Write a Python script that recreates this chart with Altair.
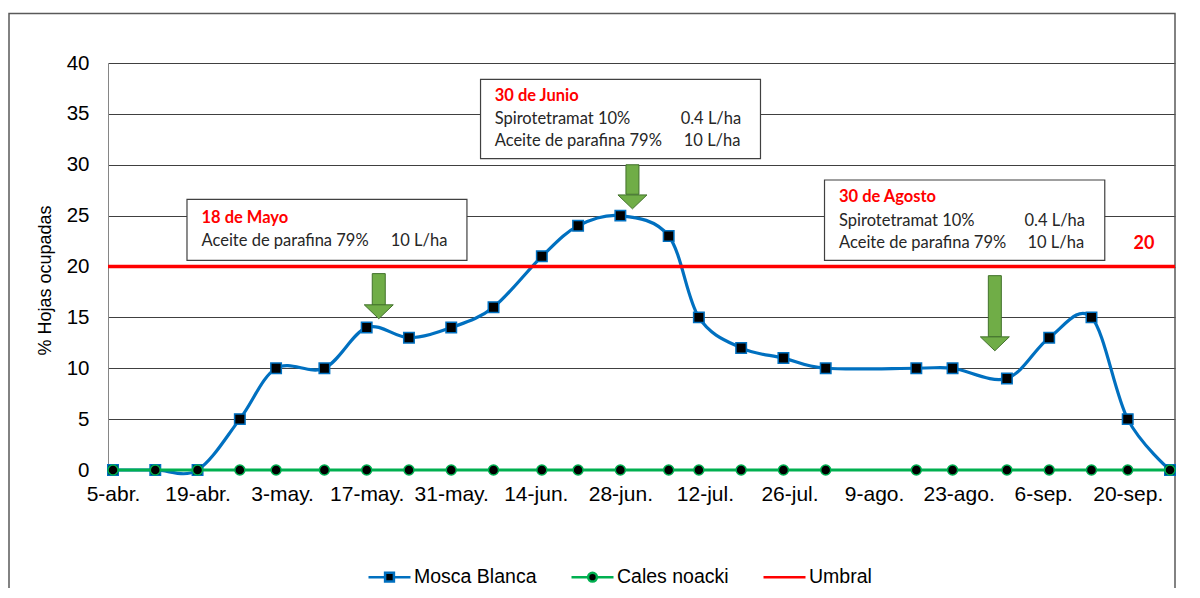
import altair as alt
import pandas as pd

anio = "2019"

# Fechas de muestreo (mes-día) y % de hojas ocupadas
fechas = ["04-05", "04-12", "04-19", "04-26", "05-02", "05-10", "05-17", "05-24",
          "05-31", "06-07", "06-15", "06-21", "06-28", "07-06", "07-11", "07-18",
          "07-25", "08-01", "08-16", "08-22", "08-31", "09-07", "09-14", "09-20", "09-27"]
mosca_blanca = [0, 0, 0, 5, 10, 10, 14, 13, 14, 16, 21, 24, 25, 23, 15, 12, 11, 10,
                10, 10, 9, 13, 15, 5, 0]
cales_noacki = [0, 0, 0, 0, 0, 0, 0, 0, 0, 0, 0, 0, 0, 0, 0, 0, 0, 0,
                0, 0, 0, 0, 0, 0, 0]
umbral = 20

series = ["Mosca Blanca", "Cales noacki", "Umbral"]
colores = ["#0070C0", "#00B050", "#FF0000"]

tick_fechas = ["04-05", "04-19", "05-03", "05-17", "05-31", "06-14", "06-28",
               "07-12", "07-26", "08-09", "08-23", "09-06", "09-20"]
tick_etiquetas = ["5-abr.", "19-abr.", "3-may.", "17-may.", "31-may.", "14-jun.",
                  "28-jun.", "12-jul.", "26-jul.", "9-ago.", "23-ago.", "6-sep.", "20-sep."]

# Tratamientos (flechas)
flecha_fechas = ["05-19", "06-30", "08-29"]
flecha_y_inicio = [19.3, 30.0, 19.1]
flecha_y_cabeza = [16.2, 27.1, 13.1]
flecha_y_punta = [14.9, 25.6, 11.7]

inicio = pd.Timestamp(f"{anio}-04-05")


def dias(lista):
    return [(pd.Timestamp(f"{anio}-{md}") - inicio).days for md in lista]


x_dias = dias(fechas)
tick_dias = dias(tick_fechas)
fin = x_dias[-1]

df = pd.DataFrame({"dia": x_dias, "mosca": mosca_blanca, "cales": cales_noacki})

# Cuadros de texto (en unidades de días / % )
cajas = pd.DataFrame({
    "x1": [12.25, 60.85, 117.8], "x2": [58.6, 107.2, 164.2],
    "y1": [26.6, 38.4, 28.5], "y2": [20.6, 30.6, 20.6],
})
titulos = pd.DataFrame({
    "x": [14.65, 63.2, 120.2], "y": [24.8, 36.8, 26.8],
    "t": ["18 de Mayo", "30 de Junio", "30 de Agosto"],
})
lineas = pd.DataFrame({
    "x": [14.65, 45.97, 63.2, 93.98, 63.2, 94.5, 120.2, 150.9, 120.2, 151.4],
    "y": [22.5, 22.5, 34.5, 34.5, 32.3, 32.3, 24.5, 24.5, 22.3, 22.3],
    "t": ["Aceite de parafina 79%", "10 L/ha",
          "Spirotetramat 10%", "0.4 L/ha", "Aceite de parafina 79%", "10 L/ha",
          "Spirotetramat 10%", "0.4 L/ha", "Aceite de parafina 79%", "10 L/ha"],
})
flechas = pd.DataFrame({
    "dia": dias(flecha_fechas), "y0": flecha_y_inicio, "y1": flecha_y_cabeza,
    "ym": [(a + b) / 2 for a, b in zip(flecha_y_cabeza, flecha_y_punta)],
})

labels_js = "[" + ",".join(f"'{s}'" for s in tick_etiquetas) + "]"
dias_js = "[" + ",".join(str(d) for d in tick_dias) + "]"

AX = "Liberation Sans"
TX = "Lato"

xs = alt.Scale(domain=[0, fin], nice=False, zero=False)
ys = alt.Scale(domain=[0, 40], nice=False)

x_axis = alt.Axis(values=tick_dias, labelExpr=f"{labels_js}[indexof({dias_js}, datum.value)]",
                  grid=False, ticks=False, domain=True, domainColor="#868686",
                  labelFont=AX, labelFontSize=21, labelColor="black", labelPadding=13,
                  labelFlush=False, labelOverlap=False, title=None)
y_axis = alt.Axis(values=list(range(0, 41, 5)), grid=True, gridColor="#404040", gridWidth=1,
                  ticks=False, domain=True, domainColor="#868686", labelFont=AX,
                  labelFontSize=20.5, labelColor="black", labelPadding=19,
                  title="% Hojas ocupadas", titleFont=AX, titleFontSize=18,
                  titleFontWeight="normal", titleColor="black", titleX=-63, titleY=217,
                  titleAngle=270, titleAlign="center", titleBaseline="middle")

base = alt.Chart(df)
X = alt.X("dia:Q", scale=xs, axis=x_axis)

marco = alt.Chart(pd.DataFrame({"a": [0]})).mark_rect(
    fillOpacity=0, stroke="#595959", strokeWidth=1.5).encode(
    x=alt.value(-99), x2=alt.value(1067), y=alt.value(-49.5), y2=alt.value(600))

linea_mosca = base.mark_line(color=colores[0], strokeWidth=3.2, interpolate="cardinal").encode(
    x=X, y=alt.Y("mosca:Q", scale=ys, axis=y_axis))
pts_mosca = base.mark_point(shape="square", size=110, filled=True, fill="black",
                            stroke=colores[0], strokeWidth=1.5, opacity=1).encode(
    x="dia:Q", y="mosca:Q")
linea_cales = base.mark_line(color=colores[1], strokeWidth=3).encode(x="dia:Q", y="cales:Q")
pts_cales = base.mark_point(shape="circle", size=100, filled=True, fill="black",
                            stroke=colores[1], strokeWidth=1.5, opacity=1).encode(
    x="dia:Q", y="cales:Q")
linea_umbral = alt.Chart(pd.DataFrame({"u": [umbral]})).mark_rule(
    color=colores[2], strokeWidth=3.5).encode(y="u:Q")
etiqueta_umbral = alt.Chart(pd.DataFrame({"x": [170.7], "y": [22.2], "t": [str(umbral)]})).mark_text(
    font=TX, fontSize=18, fontWeight="bold", color="#FF0000", align="center", baseline="middle"
).encode(x="x:Q", y="y:Q", text="t:N")

rect_cajas = alt.Chart(cajas).mark_rect(fill="white", stroke="#404040", strokeWidth=1.2).encode(
    x="x1:Q", x2="x2:Q", y="y1:Q", y2="y2:Q")
txt_tit = alt.Chart(titulos).mark_text(font=TX, fontSize=16.5, fontWeight="bold", color="#FF0000",
                                       align="left", baseline="middle").encode(
    x="x:Q", y="y:Q", text="t:N")
txt_lin = alt.Chart(lineas).mark_text(font=TX, fontSize=16.5, color="#262626",
                                      align="left", baseline="middle").encode(
    x="x:Q", y="y:Q", text="t:N")

astil = alt.Chart(flechas).mark_bar(width=13, fill="#70AD47", stroke="#41712B", strokeWidth=1).encode(
    x="dia:Q", y="y0:Q", y2="y1:Q")
cabeza = alt.Chart(flechas).mark_point(shape="M-1,-0.48L1,-0.48L0,0.48Z", size=841, filled=True,
                                       fill="#70AD47", stroke="#41712B", strokeWidth=1,
                                       opacity=1).encode(x="dia:Q", y="ym:Q")

# Leyenda
sim_cuadro = "M-1,0L-0.21,0M0.21,0L1,0M-0.21,-0.21L0.21,-0.21L0.21,0.21L-0.21,0.21Z"
sim_circulo = "M-1,0L-0.21,0M0.21,0L1,0M-0.21,0A0.21,0.21 0 1,1 0.21,0A0.21,0.21 0 1,1 -0.21,0Z"
sim_linea = "M-1,0L1,0"
leg = alt.Legend(orient="none", legendX=259, legendY=491.7, direction="horizontal", title=None,
                 symbolSize=1764, symbolStrokeWidth=2.5, symbolOpacity=1, labelFont=AX,
                 labelFontSize=19.5, labelColor="black", labelOffset=2, columnPadding=29,
                 padding=0, labelLimit=300)
leyenda = alt.Chart(pd.DataFrame({"serie": series})).transform_filter("false").mark_point(
    filled=True, fill="black", opacity=1).encode(
    stroke=alt.Stroke("serie:N", scale=alt.Scale(domain=series, range=colores), legend=leg),
    shape=alt.Shape("serie:N", scale=alt.Scale(domain=series, range=[sim_cuadro, sim_circulo, sim_linea]),
                    legend=leg),
)

chart = alt.layer(
    marco, linea_mosca, pts_mosca, linea_cales, pts_cales, linea_umbral, etiqueta_umbral,
    rect_cajas, txt_tit, txt_lin, astil, cabeza, leyenda
).properties(
    width=1067, height=407,
    padding={"left": 100, "top": 55, "right": 17, "bottom": 118},
    autosize=alt.AutoSizeParams(type="none"),
    background="white",
).configure_view(strokeWidth=0)

chart.save("out.html", embed_options={"renderer": "svg", "actions": False})
